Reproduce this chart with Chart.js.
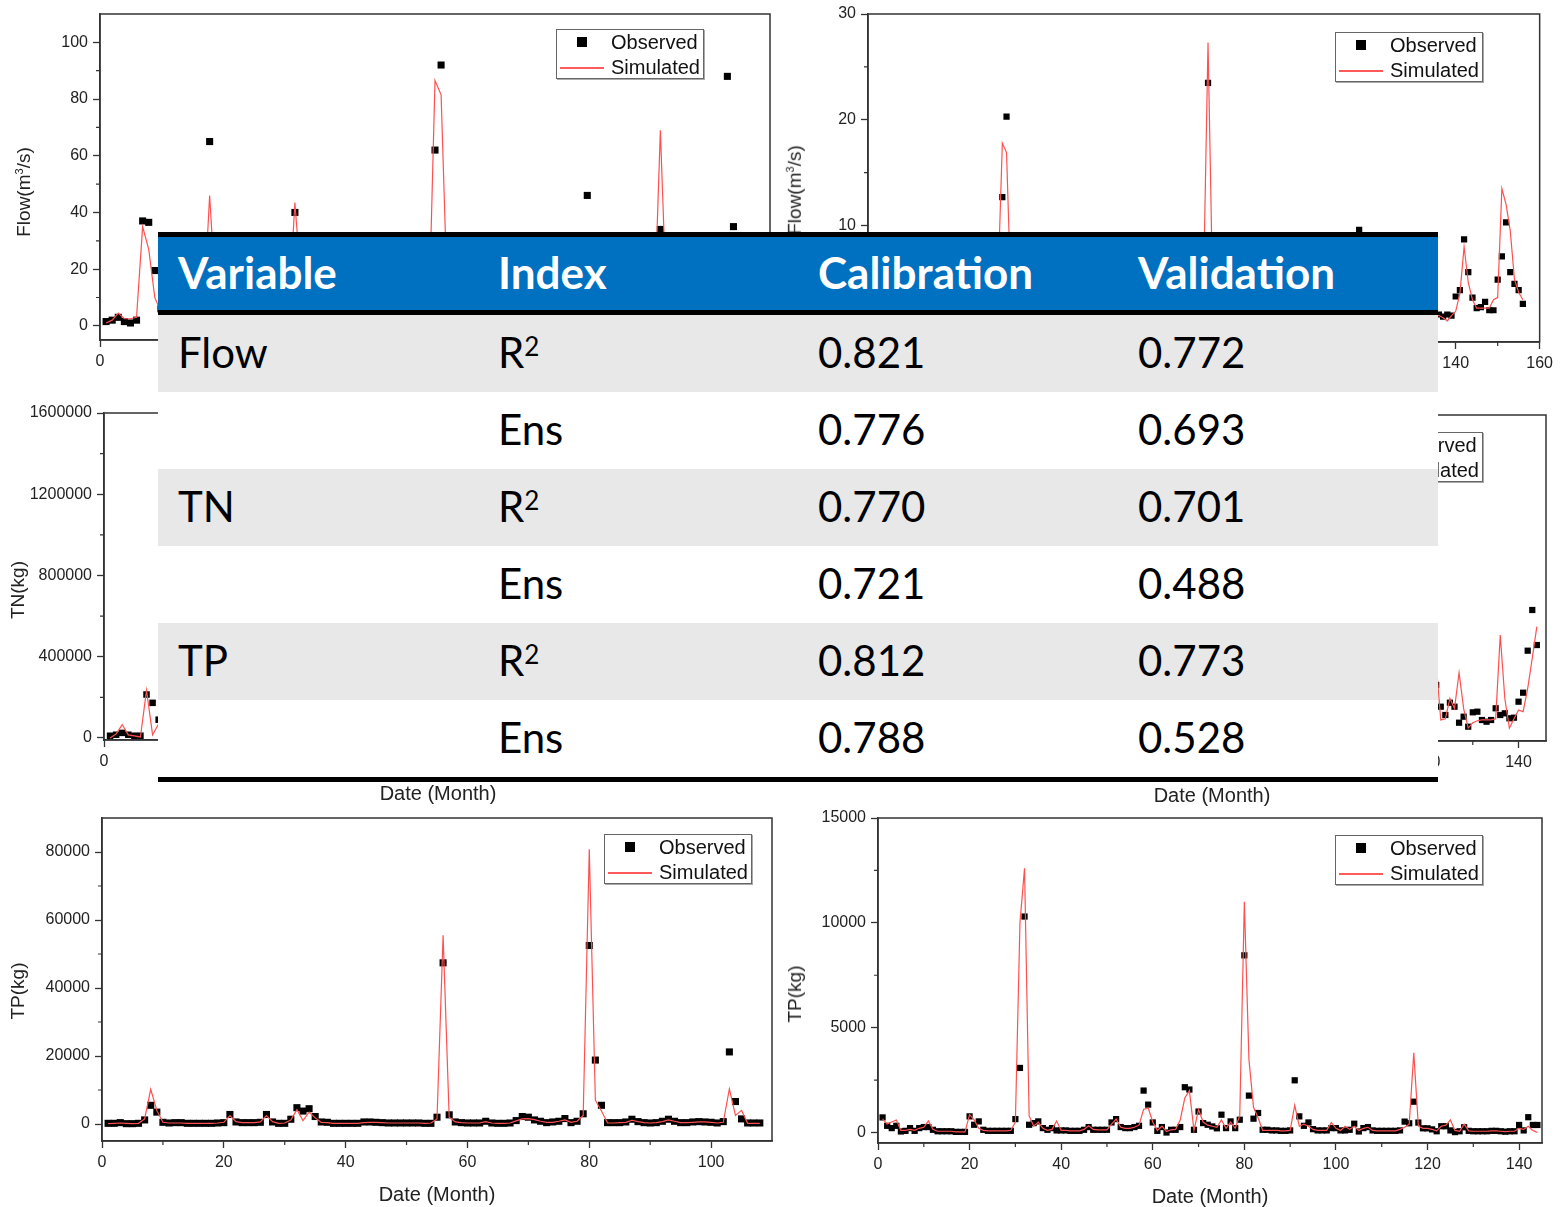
<!DOCTYPE html>
<html>
<head>
<meta charset="utf-8">
<script src="https://cdn.jsdelivr.net/npm/chart.js@4.4.0/dist/chart.umd.min.js"></script>
<style>
  body { margin: 0; background: #fff; }
  #page { position: relative; width: 1560px; height: 1207px; overflow: hidden; background: #fff; }
  canvas { position: absolute; }
  .ytitle { position: absolute; transform: translate(-50%, -50%) rotate(-90deg); white-space: nowrap;
            font: 19px 'Liberation Sans', Arial, sans-serif; color: #222; }
  .ytitle sup { font-size: 11px; }
  .lg { position: absolute; width: 146px; height: 48px; border: 1px solid #666; box-shadow: 1px 1px 0 #aaa;
        background: #fff; font: 20px 'Liberation Sans', Arial, sans-serif; color: #111; }
  .lg .sq { position: absolute; width: 10px; height: 10px; background: #000; }
  .lg .ln { position: absolute; width: 44px; height: 1.6px; background: rgb(255,90,90); }
  .lg .tx { position: absolute; line-height: 20px; }
  #tbl { position: absolute; left: 158px; top: 232px; width: 1280px; z-index: 5;
         font-family: Lato, 'Open Sans', sans-serif; }
  .rule { height: 5px; background: #000; }
  .row { display: flex; height: 77px; align-items: center; font-size: 42px; color: #000; background: #fff; }
  .row.g { background: #e8e8e8; }
  .row.hdr { height: 73px; background: #0070c0; color: #fff; font-weight: 700; font-size: 44px; }
  .row > div { width: 300px; padding-left: 20px; white-space: nowrap; position: relative; top: -2px; }
  .row sup { font-size: 26px; vertical-align: 12px; line-height: 0; }
</style>
</head>
<body>
<div id="page">
  <canvas id="cA" width="780" height="400" style="left:0;top:0"></canvas>
  <canvas id="cB" width="780" height="400" style="left:780px;top:0"></canvas>
  <canvas id="cC" width="780" height="410" style="left:0;top:400px"></canvas>
  <canvas id="cD" width="780" height="410" style="left:780px;top:400px"></canvas>
  <canvas id="cE" width="780" height="402" style="left:0;top:805px"></canvas>
  <canvas id="cF" width="780" height="402" style="left:780px;top:805px"></canvas>

  <div class="ytitle" style="left:24px;top:192px">Flow(m<sup>3</sup>/s)</div>
  <div class="ytitle" style="left:795px;top:190px">Flow(m<sup>3</sup>/s)</div>
  <div class="ytitle" style="left:18px;top:590px">TN(kg)</div>
  <div class="ytitle" style="left:18px;top:991px">TP(kg)</div>
  <div class="ytitle" style="left:795px;top:994px">TP(kg)</div>

  <div id="tbl"></div>
</div>
<script>
// flow, calibration (months 1-108)
const flowCalObs = [1.5,2,3,1.5,1,2,37,36.5,19.5,6,
  4,3,3,2.5,2,2,3,65,12,6,
  14,5,4,3.5,3,3,12,5,3,3,
  8,40,18,20,12,5,4,3,3,2.5,
  2.5,2.5,4,4,3.5,3,3,2.5,2.5,2.5,
  2.5,2.5,2,2,62,92,14,5,4,3,
  3,3,5,3,2.5,2.5,3,6,12,11,
  7,5,4,4,5,8,4,5,14,46,
  28,16,5,4,4,4,8,5,4,3,
  4,34,10,5,4,4,5,5,5,4,
  3,5,88,35,10,4,3,3];
const flowCalSim = [1,2,4.5,2.5,2.5,3,35,27,10,5,
  4,3,3,2.5,2,2,5,46,10,5,
  10,5,4,3,3,3,10,5,3,3,
  6,43.5,15,14,10,5,4,3,3,2.5,
  2.5,2.5,3.5,3.5,3,3,3,2.5,2.5,2.5,
  2.5,2.5,2,3,86.5,81.5,12,5,4,3,
  3,3,4,3,2.5,2.5,3,5,9,10,
  7,5,4,4,5,6,4,5,10,28,
  20,12,5,4,4,4,6,5,4,3,
  4,69,8,5,4,4,5,5,5,4,
  3,5,25,20,8,4,3,3];

// flow, validation (months 1-156)
const flowValObs = [3,2,2,1.5,1.5,1.5,2,2,2.5,2,
  2,2,1.5,1.5,1.5,1.5,1.5,1.5,1.5,4,
  3,3,2,1.5,1.5,1.5,1.5,1.5,1.5,3,
  6,12.7,20.3,5,4,3,2.5,2,2,2,
  2,2,2,2,2,2.5,2,2,2,2,
  3,3,2.5,2,2,2,2.5,6,5,3,
  2,2,1.5,1.5,1.5,2,6,6,2,4,
  3,2.5,2.5,2,4,2,3,2,3,8,
  23.5,7,5,3,2,2,2,2,2,2,
  7,4,3,3,2,2,2,2,2,2,
  2,2,2,3,2,2,2,2,1.5,1.5,
  1.5,1.5,1.5,2,3,3,9.6,4,2.5,2.5,
  2,2,2.5,2.5,2,1.5,1.5,2,1.5,1.5,
  1.5,1.5,1.5,1.5,1.5,
  1.6,1.4,1.6,1.5,3.3,3.9,8.7,5.6,3.2,2.2,2.3,2.8,2.0,2.0,4.9,7.1,10.3,5.6,4.5,3.9,2.6];
const flowValSim = [2.5,2,2,1.5,1.5,1.5,2,2,2,2,
  2.5,2,1.5,1.5,1.5,1.5,1.5,1.5,1.5,3.5,
  3,2,2,1.5,1.5,1.5,1.5,1.5,1.5,2.5,
  5,17.8,16.9,4,3,2.5,2.5,2,2.5,2,
  2,2,2,2,2,2.5,2,2,2,2,
  3,3,2.5,2,2,2,2.5,4,4.5,3,
  2,2,1.5,1.5,2,3,5,6,2,4,
  3,2.5,2.5,2,3,2,3,2,3,6,
  27.3,6,4,2.5,2,2,2,2,2,2,
  5,3,3,3,2,2,2,2,2.5,2,
  2,2,2,2.5,2,2,2,2,1.5,1.5,
  1.5,1.5,1.5,2,2.5,3,7,3,2.5,2.5,
  2,2,2.5,3,2,1.5,1.5,2.5,1.5,1.5,
  1.5,1.5,1.5,1.5,1.5,
  1.5,1.3,1.0,1.5,1.9,3.6,8.0,4.6,3.0,2.2,2.2,2.2,2.2,3.0,3.2,13.5,12.0,9.5,4.9,3.7,3.0];

// TN, calibration (months 1-108)
const tnCalObs = [11000,16000,25000,16000,11000,11000,214000,173000,90000,40000,
  30000,25000,20000,15000,15000,15000,40000,450000,120000,60000,
  150000,60000,40000,30000,25000,30000,150000,60000,30000,25000,
  100000,380000,250000,300000,150000,60000,40000,30000,25000,25000,
  25000,25000,50000,50000,40000,35000,30000,30000,30000,30000,
  30000,30000,25000,25000,200000,950000,180000,60000,40000,30000,
  30000,30000,70000,30000,25000,25000,30000,90000,180000,160000,
  100000,60000,40000,50000,70000,120000,40000,60000,220000,1050000,
  450000,200000,40000,35000,35000,50000,110000,60000,35000,30000,
  40000,300000,120000,60000,40000,35000,50000,60000,50000,40000,
  30000,60000,700000,250000,90000,30000,25000,25000];
const tnCalSim = [0,20000,66000,15000,10000,5000,235000,15000,70000,40000,
  30000,25000,20000,15000,15000,15000,60000,380000,100000,50000,
  130000,50000,35000,30000,25000,30000,130000,50000,30000,25000,
  90000,420000,120000,260000,130000,50000,35000,30000,25000,25000,
  25000,25000,45000,45000,40000,35000,30000,30000,30000,30000,
  30000,30000,25000,30000,160000,1100000,150000,50000,40000,30000,
  30000,30000,60000,30000,25000,25000,30000,80000,140000,150000,
  100000,60000,40000,50000,60000,100000,40000,60000,180000,1300000,
  220000,160000,40000,35000,35000,50000,90000,60000,35000,30000,
  40000,420000,90000,60000,40000,35000,50000,55000,50000,40000,
  30000,50000,500000,150000,220000,30000,25000,25000];

// TN, validation (months 1-144)
const tnValObs = [150000,90000,70000,80000,40000,40000,60000,40000,50000,60000,
  60000,40000,30000,30000,30000,30000,25000,25000,25000,160000,
  90000,110000,40000,30000,30000,30000,30000,30000,30000,140000,
  500000,1200000,90000,100000,110000,60000,40000,50000,40000,40000,
  40000,30000,30000,30000,40000,60000,40000,40000,40000,40000,
  100000,130000,60000,50000,50000,60000,70000,380000,280000,100000,
  30000,60000,20000,40000,40000,60000,420000,400000,40000,200000,
  100000,90000,70000,50000,180000,50000,110000,50000,130000,1000000,
  350000,140000,190000,40000,40000,30000,30000,30000,30000,30000,
  480000,160000,70000,100000,40000,30000,30000,30000,50000,50000,
  30000,30000,40000,90000,20000,50000,60000,30000,30000,30000,
  30000,30000,30000,30000,110000,90000,300000,100000,50000,50000,40000,
  266600,159400,118400,179100,159400,80400,110000,60600,131700,134700,93700,85300,
  93700,151500,118400,126800,102100,105100,184100,228500,436000,637000,464000];
const tnValSim = [140000,100000,110000,120000,40000,40000,50000,40000,50000,60000,
  110000,40000,30000,30000,30000,30000,25000,25000,25000,180000,
  130000,50000,40000,30000,30000,30000,30000,30000,40000,120000,
  1100000,1400000,160000,70000,110000,50000,40000,50000,120000,40000,
  40000,30000,30000,30000,40000,70000,40000,40000,40000,40000,
  90000,130000,60000,50000,50000,60000,80000,230000,250000,110000,
  30000,70000,20000,40000,40000,130000,350000,420000,40000,220000,
  110000,80000,70000,60000,130000,50000,100000,50000,170000,1250000,
  400000,150000,140000,40000,40000,30000,30000,30000,30000,30000,
  300000,70000,90000,70000,40000,30000,30000,30000,100000,50000,
  30000,70000,40000,60000,30000,50000,60000,30000,30000,30000,
  30000,30000,30000,40000,60000,90000,800000,80000,50000,50000,40000,
  375000,94000,100000,200000,150000,327000,150000,54000,80000,90000,94000,94000,
  94000,100000,513000,200000,54000,100000,143000,135000,250000,400000,555000];

// TP, calibration (months 1-108)
const tpCalObs = [200,200,400,100,100,200,1200,5500,3500,500,
  300,400,400,200,200,200,200,200,300,400,
  2800,600,400,400,400,500,2800,600,200,200,
  1400,4800,3800,4500,2200,600,500,200,200,200,
  200,200,600,600,500,400,300,300,300,300,
  300,300,200,200,2000,47400,2700,600,400,300,
  300,300,800,300,200,200,300,1000,2200,2000,
  1200,800,400,600,800,1600,400,800,3000,52500,
  18800,5500,400,400,400,600,1400,700,400,300,
  400,800,1400,800,400,400,600,700,600,500,
  300,700,21200,6600,1500,300,300,300];
const tpCalSim = [100,200,300,200,100,200,1500,10200,4000,500,
  300,300,300,200,200,200,200,200,300,500,
  2500,700,400,400,400,600,2500,700,200,300,
  1200,4200,1000,3500,1800,500,400,200,200,200,
  200,200,400,500,500,400,300,300,300,300,
  300,300,200,300,1500,55500,2000,600,400,300,
  300,300,700,300,200,200,300,900,1500,1600,
  1300,800,500,500,800,1200,500,800,2500,80800,
  7000,3800,300,300,400,500,1100,700,400,300,
  400,700,1200,800,400,400,500,600,600,500,
  300,500,10300,2500,4000,200,200,200];

// TP, validation (months 1-144)
const tpValObs = [720,320,210,320,50,80,210,80,210,260,
  260,130,60,60,60,60,30,30,30,770,
  370,530,130,80,80,80,80,80,80,640,
  3080,10300,370,450,530,210,130,210,100,100,
  100,80,80,80,130,260,130,130,130,130,
  480,640,260,210,210,260,320,2000,1330,480,
  80,260,0,130,130,260,2160,2050,130,1000,
  450,370,290,200,850,210,530,210,610,8450,
  1760,660,930,130,130,100,100,80,80,100,
  2490,770,320,480,160,100,100,100,210,210,
  100,100,130,420,50,210,260,100,80,80,
  80,80,80,100,520,440,1470,475,200,200,
  150,60,300,300,100,20,60,250,80,60,
  60,60,60,80,80,60,40,60,60,360,
  100,730,360,360];
const tpValSim = [650,400,500,600,100,100,150,100,200,250,
  550,150,60,60,60,60,30,30,30,850,
  600,200,100,80,80,80,80,80,100,500,
  10000,12600,800,300,500,200,100,150,550,100,
  100,80,80,80,150,320,150,130,130,130,
  400,640,250,200,200,250,350,1100,1170,500,
  100,300,50,130,150,600,1650,2000,100,1100,
  500,350,300,250,600,200,500,200,800,11000,
  3500,1200,700,100,100,100,100,80,80,100,
  1300,300,400,300,150,100,100,100,480,200,
  100,300,150,300,100,200,250,100,80,80,
  80,80,80,150,250,400,3800,300,200,200,
  150,80,300,350,600,100,60,400,80,60,
  60,60,60,80,80,60,40,60,60,200,
  150,300,100,0];

// tick labels
const ticks110 = [0, 20, 40, 60, 80, 100];
const ticks140 = [0, 20, 40, 60, 80, 100, 120, 140];
const ticks160 = [0, 20, 40, 60, 80, 100, 120, 140, 160];
const flowCalTicks = [0, 20, 40, 60, 80, 100];
const flowValTicks = [0, 10, 20, 30];
const tnTicks = [0, 400000, 800000, 1200000, 1600000];
const tpCalTicks = [0, 20000, 40000, 60000, 80000];
const tpValTicks = [0, 5000, 10000, 15000];

// table
const tblVariable = ['Flow', '', 'TN', '', 'TP', ''];
const tblIndex = ['R<sup>2</sup>', 'Ens', 'R<sup>2</sup>', 'Ens', 'R<sup>2</sup>', 'Ens'];
const tblCalibration = ['0.821', '0.776', '0.770', '0.721', '0.812', '0.788'];
const tblValidation = ['0.772', '0.693', '0.701', '0.488', '0.773', '0.528'];

Chart.defaults.font.family = "'Liberation Sans', Arial, sans-serif";
Chart.defaults.color = '#222';

const frame = {
  id: 'frame',
  afterDatasetsDraw(chart) {
    const { ctx, chartArea: a } = chart;
    ctx.save();
    ctx.strokeStyle = '#333';
    ctx.lineWidth = 1.5;
    ctx.strokeRect(a.left, a.top, a.right - a.left, a.bottom - a.top);
    ctx.restore();
  }
};

// Origin style minor ticks, half way between the major ones
const minorTicks = {
  id: 'minorTicks',
  afterDraw(chart) {
    const ctx = chart.ctx;
    ctx.save();
    ctx.strokeStyle = '#333';
    ctx.lineWidth = 1.2;
    ctx.beginPath();
    for (const s of [chart.scales.x, chart.scales.y]) {
      const t = s.ticks.map(k => k.value);
      const half = (t[1] - t[0]) / 2;
      for (let v = t[0] - half; v < s.max; v += 2 * half) {
        if (v <= s.min) continue;
        const p = s.getPixelForValue(v);
        if (s.isHorizontal()) { ctx.moveTo(p, s.top); ctx.lineTo(p, s.top + 4); }
        else { ctx.moveTo(s.right - 4, p); ctx.lineTo(s.right, p); }
      }
    }
    ctx.stroke();
    ctx.restore();
  }
};

function pts(vals) {
  return vals.map((v, i) => ({ x: i + 1, y: v }));
}

function axis(min, max, tickVals, fit, extra) {
  return Object.assign({
    type: 'linear', min: min, max: max,
    afterBuildTicks: s => { s.ticks = tickVals.map(v => ({ value: v })) },
    afterFit: fit,
    grid: { drawOnChartArea: false, drawTicks: true, tickLength: 7, tickWidth: 1.3, tickColor: '#333' },
    border: { display: true, color: '#333', width: 1.5 },
  }, extra);
}

function panel(id, obs, sim, c) {
  new Chart(document.getElementById(id), {
    type: 'scatter',
    data: {
      datasets: [
        { label: 'Simulated', data: pts(sim), showLine: true, pointRadius: 0,
          borderColor: 'rgb(255,80,80)', borderWidth: 1.2, order: 0 },
        { label: 'Observed', data: pts(obs), pointStyle: 'rect', pointRadius: c.r,
          backgroundColor: '#000', borderColor: '#000', borderWidth: 0, order: 1 }
      ]
    },
    options: {
      responsive: false,
      animation: false,
      events: [],
      layout: { padding: { top: c.top, right: c.right, bottom: 0, left: 0 } },
      plugins: { legend: { display: false }, tooltip: { enabled: false } },
      scales: {
        x: axis(c.x[0], c.x[1], c.xTicks, s => { s.height = c.xh }, {
          ticks: { autoSkip: false, maxRotation: 0, padding: 7, color: '#222',
                   font: { size: 16, lineHeight: 1 }, callback: v => String(v) },
          title: { display: true, text: 'Date (Month)', color: '#222',
                   font: { size: 20, lineHeight: 1 }, padding: { top: 0, bottom: c.tb } }
        }),
        y: axis(c.y[0], c.y[1], c.yTicks, s => { s.width = c.yw }, {
          ticks: { autoSkip: false, padding: 5, color: '#222',
                   font: { size: 16, lineHeight: 1 }, callback: v => String(v) }
        })
      }
    },
    plugins: [frame, minorTicks]
  });
}

panel('cA', flowCalObs, flowCalSim, { x: [0, 110], y: [-5, 110], xTicks: ticks110, yTicks: flowCalTicks,
  yw: 100, xh: 60, top: 14, right: 10, tb: 0, r: 5 });
panel('cB', flowValObs, flowValSim, { x: [0, 160], y: [-1, 30], xTicks: ticks160, yTicks: flowValTicks,
  yw: 88, xh: 58, top: 14, right: 18, tb: 0, r: 4.4 });
panel('cC', tnCalObs, tnCalSim, { x: [0, 110], y: [-10000, 1600000], xTicks: ticks110, yTicks: tnTicks,
  yw: 104, xh: 70, top: 13, right: 8, tb: 6, r: 4.6 });
panel('cD', tnValObs, tnValSim, { x: [0, 146], y: [-10000, 1600000], xTicks: ticks140, yTicks: tnTicks,
  yw: 98, xh: 69, top: 15, right: 14, tb: 4, r: 4.4 });
panel('cE', tpCalObs, tpCalSim, { x: [0, 110], y: [-5000, 90000], xTicks: ticks110, yTicks: tpCalTicks,
  yw: 102, xh: 66, top: 10, right: 8, tb: 2, r: 5 });
panel('cF', tpValObs, tpValSim, { x: [0, 145], y: [-500, 15000], xTicks: ticks140, yTicks: tpValTicks,
  yw: 98, xh: 64, top: 12, right: 18, tb: 0, r: 4.4 });

// legends, as in the Origin plots
function legend(left, top) {
  const d = document.createElement('div');
  d.className = 'lg';
  d.style.left = left + 'px';
  d.style.top = top + 'px';
  d.innerHTML =
    '<div class="sq" style="left:20px;top:7px"></div>' +
    '<div class="tx" style="left:54px;top:2px">Observed</div>' +
    '<div class="ln" style="left:3px;top:37px"></div>' +
    '<div class="tx" style="left:54px;top:27px">Simulated</div>';
  document.getElementById('page').appendChild(d);
}
legend(556, 29);
legend(1335, 32);
legend(1335, 432);
legend(604, 834);
legend(1335, 835);

// table
const tbl = document.getElementById('tbl');
let html = '<div class="rule"></div>' +
  '<div class="row hdr"><div>Variable</div><div>Index</div><div>Calibration</div><div>Validation</div></div>' +
  '<div class="rule"></div>';
tblVariable.forEach((v, i) => {
  html += '<div class="row' + (i % 2 === 0 ? ' g' : '') + '">' +
    '<div>' + v + '</div><div>' + tblIndex[i] + '</div><div>' + tblCalibration[i] + '</div><div>' +
    tblValidation[i] + '</div></div>';
});
html += '<div class="rule"></div>';
tbl.innerHTML = html;
</script>
</body>
</html>
